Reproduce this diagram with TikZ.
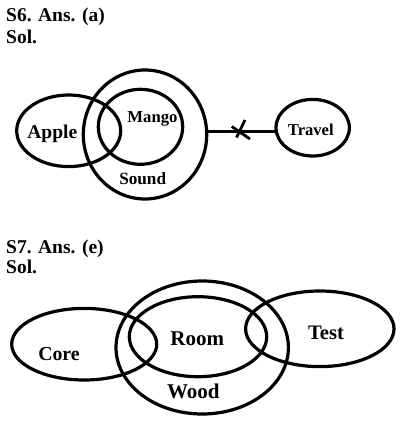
\documentclass[tikz,border=0pt]{standalone}
\usepackage{fontspec}
\setmainfont{Liberation Serif}
\tikzset{
  ring/.style={draw=black, line width=3.2pt},
  head/.style={anchor=base west, inner sep=0pt, font=\bfseries\fontsize{19.5}{21}\selectfont},
  lab/.style={inner sep=0pt, font=\bfseries\fontsize{#1}{#1}\selectfont},
}
\begin{document}
\begin{tikzpicture}[x=1pt,y=-1pt]
\useasboundingbox (0,0) rectangle (403,427);
% S6
\node[head] (h6) at (6,22) {S6. Ans. (a)};
\node[head] (s6) at (6,44) {Sol.};
\draw[ring] (68.7,130.8) ellipse [x radius=52, y radius=35.8];
\draw[ring] (145,134.5) ellipse [x radius=61.7, y radius=64.5];
\draw[ring] (140.5,126.8) ellipse [x radius=42.2, y radius=37.5];
\draw[ring] (312.7,127.7) ellipse [x radius=36.7, y radius=28.3];
\coordinate (sr) at (206.7,131.5);
\coordinate (tl) at (276,131.5);
\draw[ring] (sr) -- (tl);
\coordinate (c1) at (231.7,126.5);
\coordinate (c2) at (250,139);
\coordinate (c3) at (245,120);
\coordinate (c4) at (236.5,137.5);
\draw[ring, line width=2.8pt] (c1) -- (c2);
\draw[ring, line width=2.8pt] (c3) -- (c4);
\node[lab=19.5] (apple) at (52.3,134.3) {Apple};
\node[lab=16.7] (mango) at (152.5,119) {Mango};
\node[lab=17.2] (sound) at (142.7,179) {Sound};
\node[lab=16.6] (travel) at (310.8,130) {Travel};
% S7
\node[head] (h7) at (6,253.5) {S7. Ans. (e)};
\node[head] (s7) at (6,273) {Sol.};
\draw[ring] (84.2,344.2) ellipse [x radius=72.5, y radius=35.8];
\draw[ring] (202.2,347.5) ellipse [x radius=86.2, y radius=66.5];
\draw[ring] (198,336.7) ellipse [x radius=68.7, y radius=40];
\draw[ring] (319.8,328.8) ellipse [x radius=74.2, y radius=37.8];
\node[lab=19.8] (core) at (59,354) {Core};
\node[lab=21] (room) at (197.3,338.3) {Room};
\node[lab=20.6] (test) at (326,333.3) {Test};
\node[lab=21] (wood) at (193.3,391.7) {Wood};
\end{tikzpicture}
\end{document}
